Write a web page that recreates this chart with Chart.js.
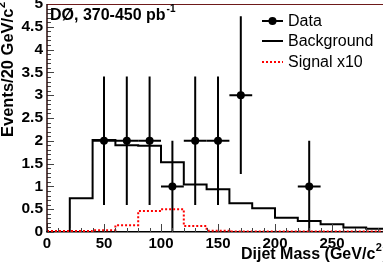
<!DOCTYPE html>
<html>
<head>
<meta charset="utf-8">
<script src="https://cdn.jsdelivr.net/npm/chart.js@4.4.0/dist/chart.umd.min.js"></script>
<style>
  html, body { margin: 0; padding: 0; background: #fff; overflow: hidden; }
  #wrap { width: 383px; height: 269px; overflow: hidden; position: relative; }
  canvas { position: absolute; left: 0; top: 0; }
</style>
</head>
<body>
<div id="wrap"><canvas id="chart" width="393" height="269"></canvas></div>
<script>
// bin lower edges (GeV/c^2), 20 GeV bins
var binEdges = [0, 20, 40, 60, 80, 100, 120, 140, 160, 180, 200, 220, 240, 260, 280];
var binEnd = 300;
var background = [0, 0.74, 2.02, 1.9, 1.89, 1.53, 1.04, 0.94, 0.63, 0.52, 0.31, 0.24, 0.17, 0.1, 0.07];
var signalX10 = [0.02, 0.02, 0.04, 0.15, 0.46, 0.5, 0.13, 0.03, 0.01, 0.01, 0.01, 0.01, 0.01, 0.01, 0.01];

// observed events
var dataMass = [50, 70, 90, 110, 130, 150, 170, 230];
var dataEvents = [2, 2, 2, 1, 2, 2, 3, 1];
var dataErr = [1.41, 1.41, 1.41, 1, 1.41, 1.41, 1.73, 1];
var halfBin = 10;

var xTicks = [0, 50, 100, 150, 200, 250];

var FONT = "'Liberation Sans', Arial, Helvetica, sans-serif";

function histPoints(vals) {
    var pts = [];
    for (var i = 0; i < binEdges.length; i++) pts.push({x: binEdges[i], y: vals[i]});
    pts.push({x: binEnd, y: vals[vals.length - 1]});
    return pts;
}

var errorBars = {
    id: 'errorBars',
    beforeDatasetDraw: function(chart, args) {
        if (args.index !== 2) return;
        var ctx = chart.ctx, xs = chart.scales.x, ys = chart.scales.y;
        ctx.save();
        ctx.strokeStyle = '#000';
        ctx.lineWidth = 2;
        for (var i = 0; i < dataMass.length; i++) {
            var px = xs.getPixelForValue(dataMass[i]);
            var py = ys.getPixelForValue(dataEvents[i]);
            ctx.beginPath();
            ctx.moveTo(px, ys.getPixelForValue(Math.max(0, dataEvents[i] - dataErr[i])));
            ctx.lineTo(px, ys.getPixelForValue(dataEvents[i] + dataErr[i]));
            ctx.moveTo(xs.getPixelForValue(dataMass[i] - halfBin), py);
            ctx.lineTo(xs.getPixelForValue(dataMass[i] + halfBin), py);
            ctx.stroke();
        }
        ctx.restore();
    }
};

var frameTicks = {
    id: 'frameTicks',
    afterDraw: function(chart) {
        var ctx = chart.ctx, xs = chart.scales.x, ys = chart.scales.y, a = chart.chartArea;
        ctx.save();
        ctx.strokeStyle = '#444';
        ctx.lineWidth = 1;
        ctx.beginPath();
        for (var v = 0; v <= 50; v++) {
            var y = Math.round(ys.getPixelForValue(v / 10)) + 0.5;
            var len = (v % 5 === 0) ? 7 : 4;
            ctx.moveTo(a.left, y);
            ctx.lineTo(a.left + len, y);
        }
        for (var g = 0; g <= 30; g++) {
            var x = Math.round(xs.getPixelForValue(g * 10)) + 0.5;
            var l2 = (g % 5 === 0) ? 8 : 4;
            ctx.moveTo(x, a.bottom);
            ctx.lineTo(x, a.bottom - l2);
        }
        ctx.stroke();
        // frame
        ctx.strokeStyle = '#6e1a1a';
        ctx.beginPath();
        ctx.moveTo(a.left, a.top + 0.5);
        ctx.lineTo(a.right, a.top + 0.5);
        ctx.stroke();
        ctx.strokeStyle = '#2a0a0a';
        ctx.lineWidth = 1.5;
        ctx.beginPath();
        ctx.moveTo(a.left, a.top);
        ctx.lineTo(a.left, a.bottom);
        ctx.stroke();

        // title
        ctx.fillStyle = '#000';
        ctx.textBaseline = 'alphabetic';
        ctx.textAlign = 'left';
        ctx.font = 'bold 16px ' + FONT;
        var t = 'D\u00D8, 370-450 pb';
        ctx.fillText(t, 50, 20);
        var tw = ctx.measureText(t).width;
        ctx.font = 'bold 10px ' + FONT;
        ctx.fillText('-1', 50 + tw + 1, 12);

        // x axis title
        ctx.font = 'bold 16px ' + FONT;
        var xt = 'Dijet Mass (GeV/c';
        ctx.fillText(xt, 241, 259);
        var xw = ctx.measureText(xt).width;
        ctx.font = 'bold 11px ' + FONT;
        ctx.fillText('2', 241 + xw + 0.5, 251);
        var sw = ctx.measureText('2').width;
        ctx.font = 'bold 16px ' + FONT;
        ctx.fillText(')', 241 + xw + sw + 1, 259);

        // y axis title
        ctx.save();
        ctx.translate(13, 2);
        ctx.rotate(-Math.PI / 2);
        ctx.font = 'bold 11px ' + FONT;
        var s2 = ctx.measureText('2').width;
        ctx.textAlign = 'right';
        ctx.fillText('2', 0, -8);
        ctx.font = 'bold 16.5px ' + FONT;
        ctx.fillText('Events/20 GeV/c', -s2 - 0.5, 0);
        ctx.restore();

        // legend
        var rows = [21, 41, 62];
        var sx0 = 262, sx1 = 283, tx = 288;
        chart.data.datasets.slice().reverse().forEach(function(ds, k) {
            var y = rows[k];
            ctx.save();
            ctx.strokeStyle = ds.borderColor;
            ctx.lineWidth = 2;
            if (ds.borderDash) ctx.setLineDash(ds.borderDash);
            ctx.beginPath();
            ctx.moveTo(sx0, y);
            ctx.lineTo(sx1, y);
            ctx.stroke();
            if (ds.type === 'scatter') {
                ctx.fillStyle = '#000';
                ctx.beginPath();
                ctx.arc((sx0 + sx1) / 2, y, 4, 0, Math.PI * 2);
                ctx.fill();
            }
            ctx.restore();
            ctx.fillStyle = '#000';
            ctx.font = '16px ' + FONT;
            ctx.textAlign = 'left';
            ctx.textBaseline = 'middle';
            ctx.fillText(ds.label, tx, y + 0.5);
        });
        ctx.restore();
    }
};

new Chart(document.getElementById('chart'), {
    type: 'line',
    data: {
        datasets: [
            {
                label: 'Signal x10',
                data: histPoints(signalX10),
                borderColor: '#ff0000',
                borderWidth: 2,
                borderDash: [2, 2],
                stepped: 'before',
                pointRadius: 0,
                fill: false
            },
            {
                label: 'Background',
                data: histPoints(background),
                borderColor: '#000',
                borderWidth: 2,
                stepped: 'before',
                pointRadius: 0,
                fill: false
            },
            {
                type: 'scatter',
                label: 'Data',
                data: dataMass.map(function(m, i) { return {x: m, y: dataEvents[i]}; }),
                borderColor: '#000',
                backgroundColor: '#000',
                pointRadius: 4,
                pointBorderWidth: 0
            }
        ]
    },
    options: {
        responsive: false,
        animation: false,
        layout: { padding: { top: 2, right: 1, left: 0, bottom: 0 } },
        plugins: { legend: { display: false }, tooltip: { enabled: false } },
        scales: {
            x: {
                type: 'linear',
                min: 0,
                max: 300,
                grid: { display: false, drawTicks: false },
                border: { display: true, color: '#000', width: 1.5 },
                afterBuildTicks: function(s) { s.ticks = xTicks.map(function(v) { return {value: v}; }); },
                ticks: {
                    padding: 3,
                    maxRotation: 0,
                    autoSkip: false,
                    color: '#000',
                    font: { family: FONT, size: 15, weight: 'bold' },
                    callback: function(v) { return String(v); }
                },
                afterFit: function(s) { s.height = 37; s.paddingLeft = 0; s.paddingRight = 0; }
            },
            y: {
                min: 0,
                max: 5,
                grid: { display: false, drawTicks: false },
                border: { display: false },
                ticks: {
                    stepSize: 0.5,
                    padding: 4,
                    color: '#000',
                    font: { family: FONT, size: 15.5, weight: 'bold' },
                    callback: function(v) { return String(v); }
                },
                afterFit: function(s) { s.width = 47; s.paddingTop = 0; s.paddingBottom = 0; }
            }
        }
    },
    plugins: [errorBars, frameTicks]
});
</script>
</body>
</html>
